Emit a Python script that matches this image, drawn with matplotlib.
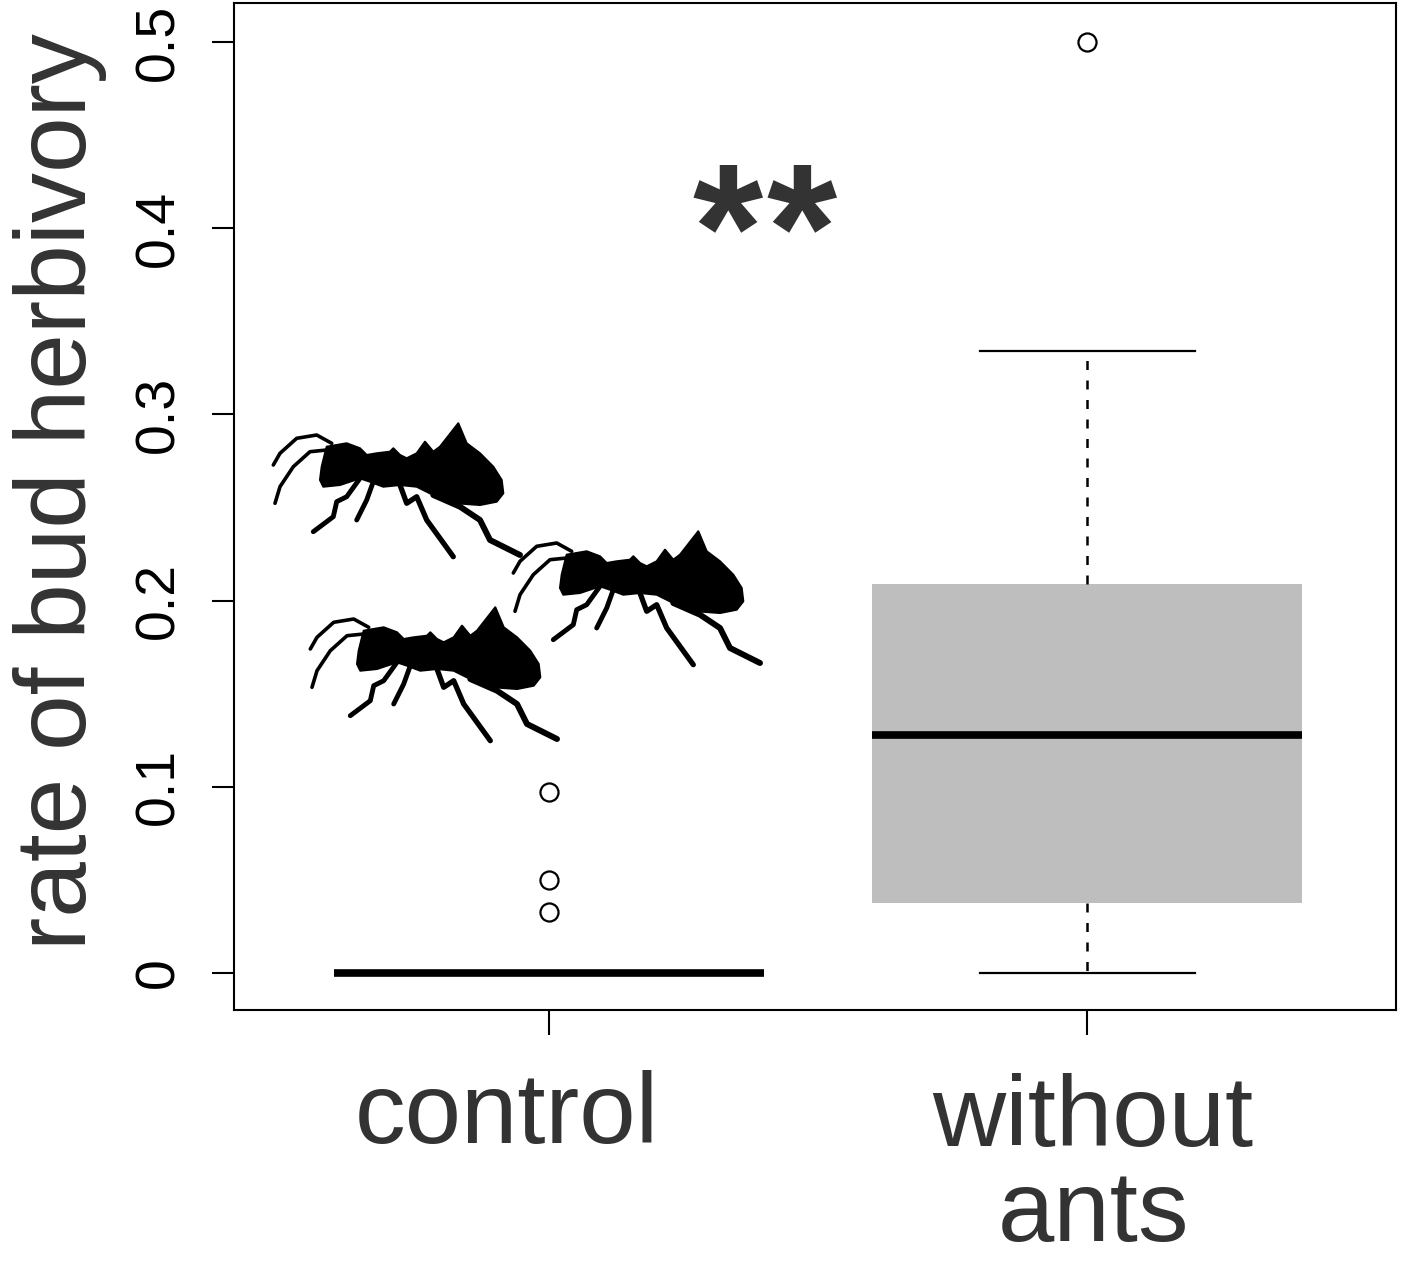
import matplotlib
matplotlib.use('Agg')
import matplotlib.pyplot as plt
import matplotlib.transforms as mtransforms
from matplotlib.patches import Polygon
from matplotlib.lines import Line2D

plt.rcParams['font.family'] = ['Liberation Sans', 'DejaVu Sans']

# Data
groups = ['control', 'without ants']
medians = [0.0, 0.128]
q1s = [0.0, 0.0376]
q3s = [0.0, 0.209]
whis_lo = [0.0, 0.0]
whis_hi = [0.0, 0.334]
outliers = [[0.097, 0.050, 0.033], [0.500]]
yticks = [0, 0.1, 0.2, 0.3, 0.4, 0.5]
ytick_labels = ['0', '0.1', '0.2', '0.3', '0.4', '0.5']

W, H = 1401, 1263
TXT = '#333333'

fig = plt.figure(figsize=(W / 100, H / 100), dpi=100)
ax = fig.add_axes([234 / W, 1 - 1010 / H, (1396 - 234) / W, (1010 - 3) / H])

stats = []
for i in range(len(groups)):
    stats.append(dict(med=medians[i], q1=q1s[i], q3=q3s[i], whislo=whis_lo[i],
                      whishi=whis_hi[i], fliers=outliers[i], label=groups[i]))

ax.bxp(stats, positions=[1, 2], widths=0.8, capwidths=0.4, patch_artist=True,
       boxprops=dict(facecolor='#bebebe', edgecolor='none', linewidth=0),
       medianprops=dict(color='black', linewidth=5.5, solid_capstyle='butt'),
       whiskerprops=dict(color='black', linewidth=1.8, linestyle=(0, (3.6, 4.2))),
       capprops=dict(color='black', linewidth=1.6),
       flierprops=dict(marker='o', markerfacecolor='none', markeredgecolor='black',
                       markersize=13, markeredgewidth=1.6))

ax.set_xlim(0.4145, 2.574)
ax.set_ylim(-0.0199, 0.521)
ax.set_yticks(yticks)
ax.set_yticklabels(ytick_labels, rotation=90, va='center', fontsize=40)
ax.set_xticks([1, 2])
ax.set_xticklabels(['', ''])
ax.tick_params(axis='y', length=16, width=1.5, pad=19)
ax.tick_params(axis='x', length=18, width=1.5)
for s in ax.spines.values():
    s.set_linewidth(1.5)

# group labels (x in data units, y in figure pixels)
lab = mtransforms.blended_transform_factory(ax.transData, fig.transFigure)
ax.text(0.922, 1 - 1143 / H, 'control', transform=lab, fontsize=73, color=TXT,
        ha='center', va='baseline', clip_on=False)
ax.text(2.011, 1 - 1146 / H, 'without', transform=lab, fontsize=73, color=TXT,
        ha='center', va='baseline', clip_on=False)
ax.text(2.011, 1 - 1241 / H, 'ants', transform=lab, fontsize=73, color=TXT,
        ha='center', va='baseline', clip_on=False)

# significance stars
for xs in [1.331, 1.470]:
    ax.text(xs, 0.367, '*', fontsize=130, fontweight='bold', color=TXT,
            ha='center', va='baseline')

fig.text(60 / W, 1 - 492 / H, 'rate of bud herbivory', rotation=90, fontsize=72,
         color=TXT, ha='center', va='center')


# ant silhouette (decoration), pixel coords for the upper-left ant
ant_body = [(326.7, 446.7), (346.7, 443.3), (360, 448.3), (366.7, 455), (376.7, 453.3),
            (390, 451.7), (393.3, 448.3), (400, 455), (406.7, 458.3), (416.7, 453.3),
            (425, 441.7), (433.3, 451.7), (440, 446.7), (458.3, 423.3), (466.7, 443.3),
            (480, 453.3), (493.3, 466.7), (501.7, 480), (503.3, 493.3), (496.7, 501.7),
            (480, 505), (456.7, 503.3), (433.3, 495), (416.7, 486.7), (400, 485),
            (383.3, 486.7), (370, 481.7), (360, 478.3), (340, 485), (323.3, 486.7),
            (320, 480), (321.7, 466.7), (325, 453.3)]
ant_limbs = [
    ([(331.7, 443.3), (316.7, 435), (296.7, 438.3), (280, 453.3), (273.3, 465)], 2.6),
    ([(326.7, 450), (310, 451.7), (293.3, 466.7), (280, 486.7), (275, 503.3)], 2.6),
    ([(360, 478.3), (346.7, 496.7), (336.7, 501.7), (333.3, 516.7), (313.3, 531.7)], 3.5),
    ([(373.3, 481.7), (366.7, 500), (356.7, 520)], 3.5),
    ([(400, 485), (406.7, 503.3), (416.7, 496.7), (426.7, 520), (453.3, 556.7)], 3.8),
    ([(433.3, 495), (460, 506.7), (480, 520), (490, 540), (520, 555)], 4.3),
]


def to_fig(pts, dx, dy):
    return [((x + dx) / W, 1 - (y + dy) / H) for x, y in pts]


def draw_ant(dx, dy):
    fig.add_artist(Polygon(to_fig(ant_body, dx, dy), closed=True, facecolor='black',
                           edgecolor='black', linewidth=1.5, joinstyle='round',
                           transform=fig.transFigure))
    for pts, lw in ant_limbs:
        p = to_fig(pts, dx, dy)
        fig.add_artist(Line2D([a for a, b in p], [b for a, b in p], color='black', lw=lw,
                              solid_capstyle='round', solid_joinstyle='round',
                              transform=fig.transFigure))


for dx, dy in [(0, 0), (240, 108), (37, 184)]:
    draw_ant(dx, dy)

fig.savefig('out.png', dpi=100)
